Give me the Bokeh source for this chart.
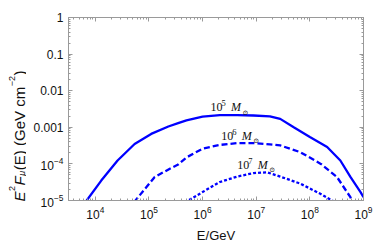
from math import pi, log10
from bokeh.plotting import figure
from bokeh.layouts import row
from bokeh.models import Range1d, FixedTicker, LogTickFormatter, LogAxis, Label
from bokeh.embed import file_html
from bokeh.resources import INLINE

# ---------------- data ----------------
# 10^5 solar masses (solid)
E_m5 = [6.5e3, 6.9e3, 1.29e4, 2.6e4, 5.4e4, 1.1e5, 2.3e5, 3.5e5, 5.0e5, 1.0e6,
        2.1e6, 4.4e6, 8.9e6, 1.8e7, 2.8e7, 5.0e7, 1.0e8, 2.1e8, 3.7e8, 5.7e8,
        8.8e8, 1.0e9]
F_m5 = [8.5e-6, 1.0e-5, 3.5e-5, 1.24e-4, 3.5e-4, 6.6e-4, 1.05e-3, 1.3e-3, 1.55e-3, 1.95e-3,
        2.14e-3, 2.16e-3, 2.1e-3, 2.0e-3, 1.7e-3, 1.0e-3, 5.4e-4, 2.9e-4, 1.24e-4, 4.4e-5,
        1.7e-5, 1.23e-5]
# 10^6 solar masses (dashed)
E_m6 = [5.2e4, 5.6e4, 1.28e5, 2.5e5, 3.5e5, 5.0e5, 1.0e6, 2.1e6, 4.4e6, 8.9e6,
        1.8e7, 2.8e7, 6.6e7, 1.6e8, 3.2e8, 5.7e8, 6.5e8]
F_m6 = [9.0e-6, 1.0e-5, 4.4e-5, 7.5e-5, 9.6e-5, 1.5e-4, 2.6e-4, 3.3e-4, 3.7e-4, 3.7e-4,
        3.4e-4, 3.2e-4, 2.1e-4, 1.0e-4, 4.4e-5, 1.23e-5, 8.0e-6]
# 10^7 solar masses (dotted)
E_m7 = [5.0e5, 5.4e5, 1.0e6, 2.1e6, 4.4e6, 8.9e6, 1.6e7, 2.8e7, 6.6e7, 1.6e8,
        2.6e8, 2.9e8]
F_m7 = [8.0e-6, 1.0e-5, 1.7e-5, 3.2e-5, 4.5e-5, 5.6e-5, 5.9e-5, 4.5e-5, 2.9e-5, 1.5e-5,
        1.0e-5, 9.0e-6]

x_major = [1e4, 1e5, 1e6, 1e7, 1e8, 1e9]
y_major = [1e-5, 1e-4, 1e-3, 1e-2, 1e-1, 1.0]
x_minor = [m * 10.0**d for d in range(3, 9) for m in range(2, 10)]
y_minor = [m * 10.0**d for d in range(-5, 0) for m in range(2, 10)]

curve_labels = [("10", "5"), ("10", "6"), ("10", "7")]
x_title = "E/GeV"
# y title pieces: (text, role)
y_title = [("E", "it"), ("2", "sup"), ("F", "it"), ("\u03bc", "sub"),
           ("(E) (GeV cm", "rm"), ("\u22122", "sup"), (")", "rm")]

X_LO, X_HI = 10**3.5, 1e9
Y_LO, Y_HI = 1e-5, 1.0

# ---------------- geometry ----------------
W_TOTAL, H_TOTAL = 375, 242
FW, FH = 295, 183
L, T = 68, 17          # frame left/top in page pixels
W_LBL = 26             # narrow strip that holds the rotated y title

GRAY = "#9a9a9a"
TXT = "#111111"

# ---------------- main figure ----------------
p = figure(frame_width=FW, frame_height=FH,
           x_axis_type="log", y_axis_type="log",
           x_range=Range1d(X_LO, X_HI), y_range=Range1d(Y_LO, Y_HI),
           output_backend="svg", toolbar_location=None,
           min_border_left=L - W_LBL, min_border_right=W_TOTAL - L - FW,
           min_border_top=T, min_border_bottom=H_TOTAL - T - FH,
           background_fill_color="white", border_fill_color="white")
p.xgrid.visible = False
p.ygrid.visible = False
p.outline_line_color = GRAY
p.outline_line_width = 1


def style_axis(ax, ticks, minor):
    ax.ticker = FixedTicker(ticks=ticks, minor_ticks=minor)
    ax.axis_line_color = GRAY
    ax.major_tick_line_color = GRAY
    ax.minor_tick_line_color = GRAY
    ax.major_tick_in = 4
    ax.major_tick_out = 0
    ax.minor_tick_in = 2
    ax.minor_tick_out = 0


xa = p.xaxis[0]
ya = p.yaxis[0]
style_axis(xa, x_major, x_minor)
style_axis(ya, y_major, y_minor)
xa.formatter = LogTickFormatter(min_exponent=0)
ya.formatter = LogTickFormatter(min_exponent=4)
for ax in (xa, ya):
    ax.major_label_text_font = "Liberation Sans"
    ax.major_label_text_font_size = "12px"
    ax.major_label_text_color = TXT
xa.major_label_standoff = 5
ya.major_label_standoff = 5
xa.axis_label = x_title
xa.axis_label_text_font = "Liberation Sans"
xa.axis_label_text_font_size = "13px"
xa.axis_label_text_font_style = "normal"
xa.axis_label_text_color = TXT
xa.axis_label_standoff = 6

top = LogAxis()
right = LogAxis()
style_axis(top, x_major, x_minor)
style_axis(right, y_major, y_minor)
for ax in (top, right):
    ax.major_label_text_font_size = "0px"
    ax.major_label_standoff = 0
    ax.major_label_text_alpha = 0
p.add_layout(top, "above")
p.add_layout(right, "right")

# ---------------- curves ----------------
BLUE = "#0000ff"
p.line(E_m5, F_m5, line_color=BLUE, line_width=2.3)
p.line(E_m6, F_m6, line_color=BLUE, line_width=2.3, line_dash="6 3")
p.line(E_m7, F_m7, line_color=BLUE, line_width=2.3, line_dash="3 2")

# ---------------- curve labels (page-pixel helpers) ----------------
lx0, lx1 = log10(X_LO), log10(X_HI)
ly0, ly1 = log10(Y_LO), log10(Y_HI)


def px_x(px):
    return 10 ** (lx0 + (px - L) / FW * (lx1 - lx0))


def py_y(py):
    return 10 ** (ly1 - (py - T) / FH * (ly1 - ly0))


def add_text(fig, xx, yy, text, size, style="normal", font="Liberation Sans",
             angle=0.0, align="left"):
    fig.add_layout(Label(x=xx, y=yy, text=text,
                         text_font=font, text_font_size=f"{size}px",
                         text_font_style=style, text_color=TXT,
                         angle=angle, text_align=align,
                         text_baseline="alphabetic"))


label_pos = [(210.0, 106.7), (220.7, 135.0), (236.7, 164.0)]
for (base, ex), (x0, y0) in zip(curve_labels, label_pos):
    add_text(p, px_x(x0), py_y(y0), base, 12, font="Liberation Serif")
    add_text(p, px_x(x0 + 11.0), py_y(y0 - 3.8), ex, 8.5, font="Liberation Serif")
    add_text(p, px_x(x0 + 20.6), py_y(y0), "M", 12, style="italic", font="Liberation Serif")
    add_text(p, px_x(x0 + 32.0), py_y(y0 + 5.5), "\u2299", 7, font="DejaVu Serif")

# ---------------- narrow strip with the rotated y title ----------------
q = figure(frame_width=W_LBL, frame_height=H_TOTAL,
           x_range=Range1d(0, W_LBL), y_range=Range1d(0, H_TOTAL),
           output_backend="svg", toolbar_location=None,
           min_border=0, min_border_left=0, min_border_right=0,
           min_border_top=0, min_border_bottom=0,
           background_fill_color="white", border_fill_color="white")
q.axis.visible = False
q.grid.visible = False
q.outline_line_color = None

# Arial-like advance widths (em) for flowing the pieces
ADV = {"E": 0.667, "F": 0.611, "2": 0.556, "\u03bc": 0.576, "\u2212": 0.584,
       "(": 0.333, ")": 0.333, " ": 0.278, "G": 0.778, "e": 0.556, "V": 0.667,
       "c": 0.5, "m": 0.833}
MAIN, SCRIPT = 15.0, 9.0
BX = 18.5
A = pi / 2
ypos = 184.0  # page y where the title starts (bottom end)
for text, role in y_title:
    size = MAIN if role in ("it", "rm") else SCRIPT
    style = "italic" if role in ("it", "sub") else "normal"
    bx = {"it": BX, "rm": BX, "sup": BX - 7.0, "sub": BX + 2.5}[role]
    add_text(q, bx, H_TOTAL - ypos, text, size, style=style, angle=A)
    ypos -= sum(ADV.get(ch, 0.556) for ch in text) * size + 0.5

layout = row(q, p, spacing=0)
open("out.html", "w").write(file_html(layout, INLINE))
